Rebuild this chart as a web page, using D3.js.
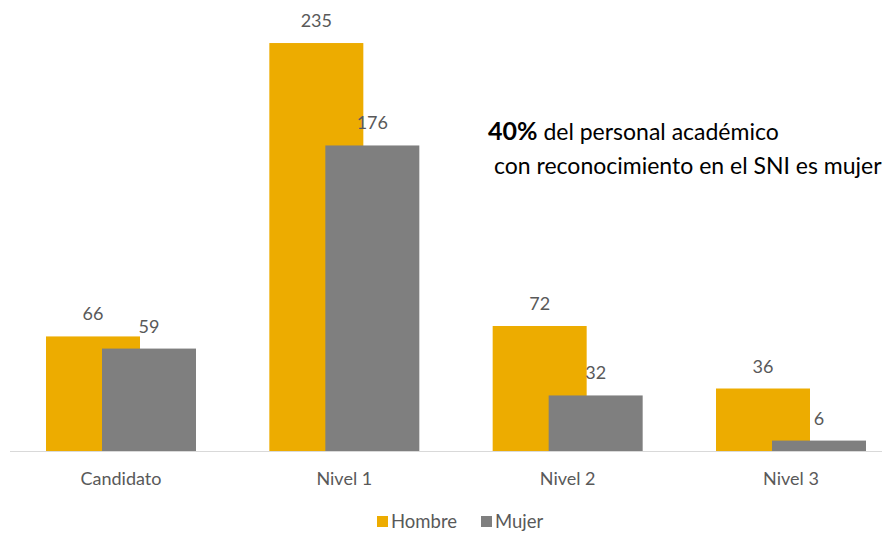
<!DOCTYPE html>
<html>
<head>
<meta charset="utf-8">
<script src="https://cdn.jsdelivr.net/npm/d3@7"></script>
<style>
  body { margin: 0; background: #fff; }
  svg { display: block; font-family: Lato, "Open Sans", sans-serif; }
</style>
</head>
<body>
<svg width="892" height="533"></svg>
<script>
var categories = ["Candidato", "Nivel 1", "Nivel 2", "Nivel 3"];
var hombre = [66, 235, 72, 36];
var mujer = [59, 176, 32, 6];
var seriesNames = ["Hombre", "Mujer"];
var colors = { Hombre: "#EDAC00", Mujer: "#7F7F7F" };

var svg = d3.select("svg");

var x = d3.scalePoint()
    .domain(categories)
    .range([121, 791]);

var y = d3.scaleLinear()
    .domain([0, 250])
    .range([451, 17]);

var barW = 94, off = 28;

// axis line
svg.append("line")
    .attr("x1", 10).attr("x2", 882)
    .attr("y1", y(0) + 0.5).attr("y2", y(0) + 0.5)
    .attr("stroke", "#d9d9d9").attr("stroke-width", 1);

var rows = categories.map(function(c, i) {
    return { cat: c, Hombre: hombre[i], Mujer: mujer[i] };
});

seriesNames.forEach(function(s, si) {
    var shift = si == 0 ? -off : off;
    var g = svg.append("g");
    g.selectAll("rect")
      .data(rows)
      .enter().append("rect")
        .attr("x", function(d) { return x(d.cat) + shift - barW / 2; })
        .attr("y", function(d) { return y(d[s]); })
        .attr("width", barW)
        .attr("height", function(d) { return y(0) - y(d[s]); })
        .attr("fill", colors[s]);

    g.selectAll("text")
      .data(rows)
      .enter().append("text")
        .attr("x", function(d) { return x(d.cat) + shift; })
        .attr("y", function(d) { return y(d[s]) - 16; })
        .attr("text-anchor", "middle")
        .attr("font-size", 18)
        .attr("fill", "#595959")
        .text(function(d) { return d[s]; });
});

// category labels
svg.selectAll(".cat")
  .data(categories)
  .enter().append("text")
    .attr("class", "cat")
    .attr("x", function(d) { return x(d); })
    .attr("y", 485)
    .attr("text-anchor", "middle")
    .attr("font-size", 18)
    .attr("fill", "#595959")
    .text(function(d) { return d; });

// legend
var legX = [377, 481];
seriesNames.forEach(function(s, i) {
    svg.append("rect")
        .attr("x", legX[i]).attr("y", 516)
        .attr("width", 11).attr("height", 11)
        .attr("fill", colors[s]);
    svg.append("text")
        .attr("x", legX[i] + 14).attr("y", 528)
        .attr("font-size", 18.5)
        .attr("fill", "#595959")
        .text(s);
});

// annotation
var note = svg.append("text")
    .attr("x", 488).attr("y", 140)
    .attr("font-size", 23)
    .attr("fill", "#000");
note.append("tspan").attr("font-weight", "bold").attr("font-size", 25).text("40%");
note.append("tspan").text(" del personal académico");
svg.append("text")
    .attr("x", 494).attr("y", 174)
    .attr("font-size", 23)
    .attr("fill", "#000")
    .text("con reconocimiento en el SNI es mujer");
</script>
</body>
</html>
